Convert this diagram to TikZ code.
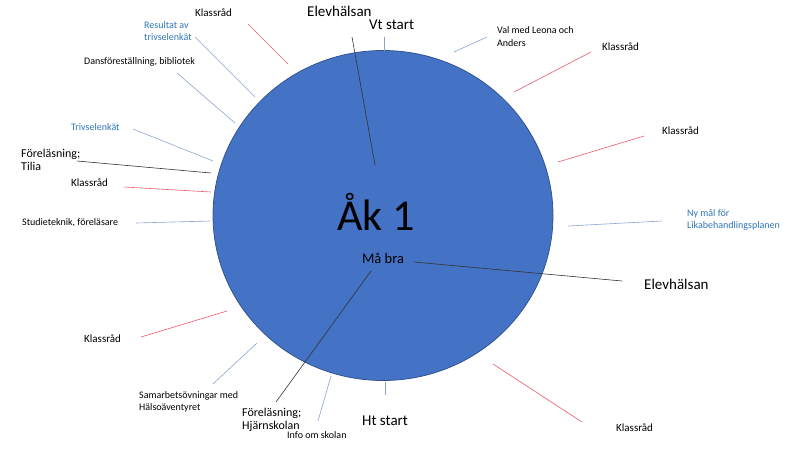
\documentclass[tikz,border=0pt]{standalone}
\usepackage{fontspec}
\setmainfont{Carlito}
\usetikzlibrary{shapes.geometric}
\definecolor{circfill}{HTML}{4472C4}
\definecolor{circdraw}{HTML}{2F528F}
\definecolor{bluetext}{HTML}{2E75B6}
\definecolor{redline}{rgb}{0.92,0.35,0.42}
\definecolor{blueline}{rgb}{0.55,0.64,0.82}
\definecolor{darkline}{rgb}{0.2,0.2,0.2}
\tikzset{
  lbl/.style={anchor=west,inner sep=0pt,align=left,text=black},
  fsmall/.style={font=\fontsize{10}{12.5}\selectfont},
  fmid/.style={font=\fontsize{11}{13}\selectfont},
  fsemi/.style={font=\fontsize{12}{13}\selectfont},
  fbig/.style={font=\fontsize{15}{17}\selectfont},
  bluelbl/.style={text=bluetext},
  rl/.style={draw=redline,line width=0.6pt},
  bl/.style={draw=blueline,line width=0.6pt},
  kl/.style={draw=darkline,line width=0.6pt},
}
\begin{document}
\begin{tikzpicture}[x=1pt,y=-1pt]
\useasboundingbox (0,0) rectangle (800,450);
% circle
\node[draw=circdraw,fill=circfill,line width=0.75pt,ellipse,minimum width=340pt,minimum height=330pt,inner sep=0pt] (circ) at (383,215.5) {};
\node[inner sep=0pt,font=\fontsize{44}{48}\selectfont] (ak) at (376,212) {Åk 1};
\node[inner sep=0pt,font=\fontsize{14.5}{16}\selectfont] (mab) at (383,258) {Må bra};
% labels
\node[lbl,fmid] (k1) at (195,13) {Klassråd};
\node[lbl,fsmall,bluelbl] (res) at (144,31) {Resultat av\\trivselenkät};
\node[lbl,fsmall] (dans) at (84,62) {Dansföreställning, bibliotek};
\node[lbl,fsmall,bluelbl] (triv) at (71,127) {Trivselenkät};
\node[lbl,fsemi] (tilia) at (21,159.5) {Föreläsning;\\Tilia};
\node[lbl,fmid] (k2) at (71,183) {Klassråd};
\node[lbl,fsmall] (stud) at (22,223) {Studieteknik, föreläsare};
\node[lbl,fbig] (elevt) at (307,11) {Elevhälsan};
\node[lbl,fbig] (vt) at (369,25) {Vt start};
\node[lbl,fsmall] (val) at (497,36.5) {Val med Leona och\\Anders};
\node[lbl,fmid] (k3) at (602,47) {Klassråd};
\node[lbl,fmid] (k4) at (662,131) {Klassråd};
\node[lbl,fsmall,bluelbl] (ny) at (687,220) {Ny mål för\\Likabehandlingsplanen};
\node[lbl,fbig] (elevr) at (644,284) {Elevhälsan};
\node[lbl,fmid] (k5) at (616,428) {Klassråd};
\node[lbl,fbig] (ht) at (362,421) {Ht start};
\node[lbl,fsmall] (info) at (287,435) {Info om skolan};
\node[lbl,fsemi] (hj) at (242,419.5) {Föreläsning;\\Hjärnskolan};
\node[lbl,fsmall] (sam) at (139,402) {Samarbetsövningar med\\Hälsoäventyret};
\node[lbl,fmid] (k6) at (84,339) {Klassråd};
% line ends
\coordinate (a1) at (248,24);   \coordinate (a2) at (288,64);
\coordinate (b1) at (195,37);   \coordinate (b2) at (255,97);
\coordinate (c1) at (177,73);   \coordinate (c2) at (235,123);
\coordinate (d1) at (133,129);  \coordinate (d2) at (213,161);
\coordinate (e1) at (77,161);   \coordinate (e2) at (211,173);
\coordinate (f1) at (124,187);  \coordinate (f2) at (211,192);
\coordinate (g1) at (136,223);  \coordinate (g2) at (210,221);
\coordinate (h1) at (352,37);   \coordinate (h2) at (375,165);
\coordinate (i1) at (384,37);   \coordinate (i2) at (384,51);
\coordinate (j1) at (454,52);   \coordinate (j2) at (487,37);
\coordinate (k1a) at (514,92);  \coordinate (k2a) at (591,52);
\coordinate (l1) at (558,162);  \coordinate (l2) at (644,136);
\coordinate (m1) at (568,226);  \coordinate (m2) at (662,221);
\coordinate (n1) at (414,262);  \coordinate (n2) at (622,281);
\coordinate (o1) at (493,364);  \coordinate (o2) at (582,422);
\coordinate (p1) at (385,382);  \coordinate (p2) at (385,395);
\coordinate (q1) at (331,376);  \coordinate (q2) at (318,421);
\coordinate (r1) at (371,271);  \coordinate (r2) at (276,402);
\coordinate (s1) at (257,343);  \coordinate (s2) at (213,384);
\coordinate (t1) at (227,311);  \coordinate (t2) at (141,337);
% connectors
\draw[rl] (a1) -- (a2);
\draw[bl] (b1) -- (b2);
\draw[bl] (c1) -- (c2);
\draw[bl] (d1) -- (d2);
\draw[kl] (e1) -- (e2);
\draw[rl] (f1) -- (f2);
\draw[bl] (g1) -- (g2);
\draw[kl] (h1) -- (h2);
\draw[bl] (i1) -- (i2);
\draw[bl] (j1) -- (j2);
\draw[rl] (k1a) -- (k2a);
\draw[rl] (l1) -- (l2);
\draw[bl] (m1) -- (m2);
\draw[kl] (n1) -- (n2);
\draw[rl] (o1) -- (o2);
\draw[bl] (p1) -- (p2);
\draw[bl] (q1) -- (q2);
\draw[kl] (r1) -- (r2);
\draw[bl] (s1) -- (s2);
\draw[rl] (t1) -- (t2);
\end{tikzpicture}
\end{document}
